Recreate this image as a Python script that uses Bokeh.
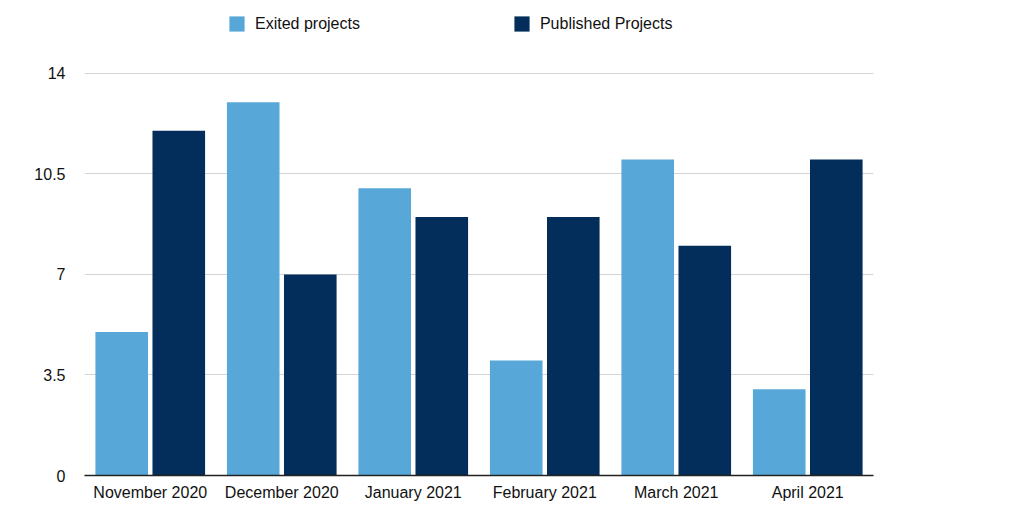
from bokeh.plotting import figure
from bokeh.models import ColumnDataSource, FactorRange, Range1d, FixedTicker, Legend, LegendItem, CustomJSTickFormatter
from bokeh.transform import dodge
from bokeh.embed import file_html
from bokeh.resources import INLINE

months = ["November 2020", "December 2020", "January 2021", "February 2021", "March 2021", "April 2021"]
exited = [5, 13, 10, 4, 11, 3]
published = [12, 7, 9, 9, 8, 11]
y_ticks = [0, 3.5, 7, 10.5, 14]

src = ColumnDataSource(dict(month=months, exited=exited, published=published))

FONT = "Liberation Sans"
LIGHT = "#57A8D8"
DARK = "#032D5A"

# frame extends above the top tick so the legend sits inside it
p = figure(x_range=FactorRange(*months, range_padding=0), y_range=Range1d(0, 16.40),
           width=1008, height=516, output_backend="svg", toolbar_location=None,
           min_border_left=84, min_border_right=135, min_border_top=4, min_border_bottom=41)
p.outline_line_color = None
p.background_fill_color = "white"
p.border_fill_color = "white"

r1 = p.vbar(x=dodge("month", -0.217, range=p.x_range), top="exited", width=0.4, source=src,
            fill_color=LIGHT, line_color=None)
r2 = p.vbar(x=dodge("month", 0.217, range=p.x_range), top="published", width=0.4, source=src,
            fill_color=DARK, line_color=None)

p.xgrid.grid_line_color = None
p.ygrid.grid_line_color = "#d4d4d4"
p.ygrid.grid_line_width = 1
p.ygrid.ticker = FixedTicker(ticks=y_ticks)

p.yaxis.ticker = FixedTicker(ticks=y_ticks)
p.yaxis.formatter = CustomJSTickFormatter(code="return String(tick)")
p.yaxis.axis_line_color = None
p.yaxis.major_tick_line_color = None
p.yaxis.minor_tick_line_color = None
p.yaxis.major_label_standoff = 13
p.yaxis.major_label_text_font = FONT
p.yaxis.major_label_text_font_size = "16px"
p.yaxis.major_label_text_color = "#111111"

p.xaxis.axis_line_color = "#222222"
p.xaxis.axis_line_width = 1.5
p.xaxis.major_tick_line_color = None
p.xaxis.minor_tick_line_color = None
p.xaxis.major_label_standoff = 2
p.xaxis.major_label_text_font = FONT
p.xaxis.major_label_text_font_size = "16px"
p.xaxis.major_label_text_color = "#111111"

legend = Legend(items=[LegendItem(label="Exited projects", renderers=[r1]),
                       LegendItem(label="Published Projects", renderers=[r2])],
                orientation="horizontal", location=(143, 442), spacing=152,
                padding=0, margin=0, border_line_color=None, background_fill_alpha=0,
                glyph_width=19, glyph_height=19, label_standoff=9,
                label_text_font=FONT, label_text_font_size="16px", label_text_color="#111111")
p.add_layout(legend, "center")

open("out.html", "w").write(file_html(p, INLINE))
